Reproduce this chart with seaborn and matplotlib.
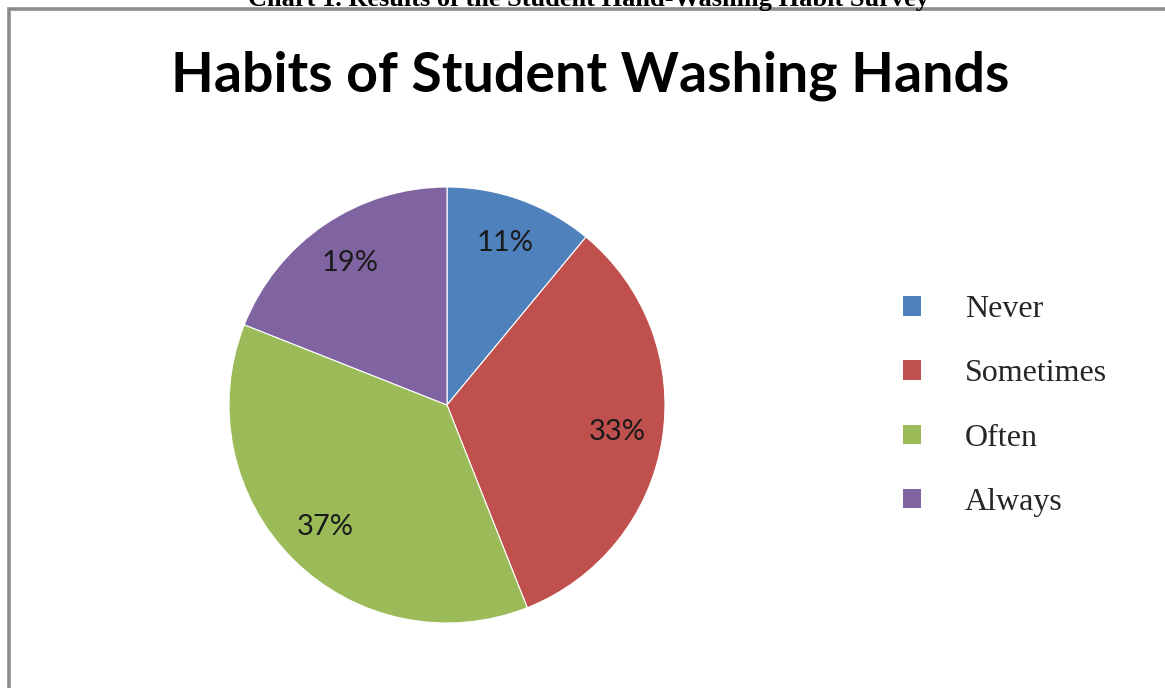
import matplotlib
matplotlib.use("Agg")
import matplotlib.pyplot as plt
from matplotlib.patches import Rectangle, Patch
import seaborn as sns

# survey results
habits = ["Never", "Sometimes", "Often", "Always"]
shares = [11, 33, 37, 19]
colors = ["#4F81BD", "#C0504D", "#9BBB59", "#8064A2"]

sns.set_theme(style="white")
plt.rcParams["font.family"] = ["Lato", "DejaVu Sans"]

fig = plt.figure(figsize=(11.65, 6.88), dpi=100)

# gray frame of the chart area (right and bottom edges fall outside the crop)
fig.patches.append(Rectangle((8.5 / 1165, -0.1), 1.2, (688 - 9.5) / 688 + 0.1,
                             transform=fig.transFigure, fill=False,
                             edgecolor="#8c8c8c", linewidth=2.6))

# caption of the document, mostly cut off at the top
fig.text(589 / 1165, 1.0 + 1 / 688, "Chart 1. Results of the Student Hand-Washing Habit Survey",
         ha="center", va="center", fontsize=19, fontweight="bold",
         family="Liberation Serif", color="black")

fig.text(590 / 1165, 1 - 76 / 688, "Habits of Student Washing Hands",
         ha="center", va="center", fontsize=40, fontweight="bold", color="black")

ax = fig.add_axes([(447 - 218) / 1165, (688 - 623) / 688, 436 / 1165, 436 / 688])
wedges, texts, autotexts = ax.pie(
    shares, colors=colors, startangle=90, counterclock=False,
    autopct="%1.0f%%", pctdistance=0.79,
    wedgeprops=dict(edgecolor="white", linewidth=0.8),
    textprops=dict(fontsize=21, color="#1a1a1a"))
ax.set_xlim(-1, 1)
ax.set_ylim(-1, 1)
ax.set_aspect("equal")
ax.axis("off")

handles = [Patch(facecolor=c, edgecolor="none") for c in colors]
fig.legend(handles, habits, loc="center left",
           bbox_to_anchor=(874 / 1165, 1 - 406 / 688),
           frameon=False, prop=dict(family="Liberation Serif", size=23),
           handlelength=0.56, handleheight=0.56, handletextpad=1.38,
           labelspacing=1.1)

fig.savefig("out.png", dpi=100)
